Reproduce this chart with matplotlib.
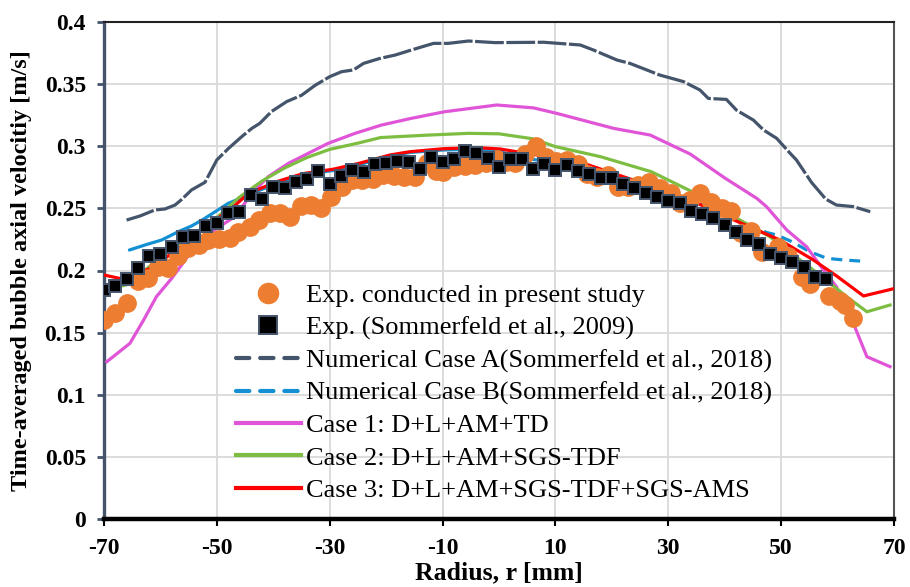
import matplotlib
matplotlib.use("Agg")
import matplotlib.pyplot as plt
from matplotlib.lines import Line2D
import numpy as np

plt.rcParams['font.family'] = ['Liberation Serif', 'DejaVu Serif']

# ---------------- data ----------------
exp_x = [-70, -68, -66, -64, -62.2, -60.4, -58.6, -56.9, -55.2, -53.2, -51.5, -49.6, -47.7, -46.2,
         -44.1, -42.5, -40.6, -38.8, -37, -35.1, -33.4, -31.6, -29.8, -27.9, -26.1, -24.3, -22.4,
         -20.5, -18.6, -16.8, -14.9, -12.8, -11.2, -9.9, -7.9, -6, -4.3, -2.3, -0.4, 1.2, 2.8, 4.6,
         6.6, 8.4, 10.1, 12, 14, 15.6, 17.3, 19.4, 21.1, 22.9, 24.7, 26.6, 28.5, 30.4, 32.1, 33.8,
         35.6, 37.5, 39.5, 41.2, 42.8, 44.6, 46.6, 49.5, 51.3, 53.7, 55.1, 58.5, 60.5, 61.3, 62.8]
exp_y = [0.160, 0.1655, 0.174, 0.1915, 0.194, 0.2025, 0.2023, 0.2118, 0.2178, 0.2205, 0.2245, 0.2253,
         0.2258, 0.2313, 0.235, 0.241, 0.246, 0.2466, 0.2433, 0.252, 0.2527, 0.250, 0.2588, 0.2675,
         0.2728, 0.2728, 0.2737, 0.2768, 0.276, 0.2755, 0.2755, 0.2863, 0.280, 0.2795, 0.2836, 0.284,
         0.285, 0.2863, 0.290, 0.287, 0.2863, 0.294, 0.300, 0.2916, 0.288, 0.289, 0.286, 0.278,
         0.2755, 0.2768, 0.2675, 0.2675, 0.2688, 0.2716, 0.266, 0.262, 0.254, 0.2567, 0.262, 0.2548,
         0.250, 0.248, 0.230, 0.232, 0.2145, 0.219, 0.212, 0.1945, 0.189, 0.1795, 0.1755, 0.1722, 0.162]

som_x = list(range(-70, 60, 2))
som_y = [0.184, 0.1875, 0.193, 0.2017, 0.2117, 0.213, 0.2187, 0.227, 0.228, 0.236, 0.2385, 0.246,
         0.2474, 0.261, 0.2575, 0.2675, 0.266, 0.271, 0.274, 0.280, 0.270, 0.276, 0.281, 0.2795,
         0.2857, 0.2868, 0.288, 0.2876, 0.282, 0.291, 0.2876, 0.2895, 0.296, 0.2948, 0.2908, 0.2836,
         0.2895, 0.2895, 0.2814, 0.2855, 0.2809, 0.285, 0.280, 0.2774, 0.2742, 0.2742, 0.2696,
         0.2667, 0.2627, 0.2594, 0.256, 0.2546, 0.248, 0.2455, 0.242, 0.237, 0.2313, 0.2245,
         0.2213, 0.2133, 0.2098, 0.207, 0.2025, 0.195, 0.193]

caseA_x = [-66, -63.6, -61, -59.2, -57.4, -56.2, -54.5, -52.1, -50, -48, -45.6, -43.8, -42.4, -40.3,
           -37.6, -35, -32.6, -30, -27.9, -25.8, -24, -21.1, -18.4, -15.5, -11.6, -9, -5.4, -0.7,
           7.9, 14.4, 16.7, 20.9, 23.2, 28.5, 32.7, 35.6, 37.1, 40.3, 42.1, 45.1, 46.9, 49.2, 51.6,
           52.7, 55.4, 57.9, 59.8, 62.8, 65.8]
caseA_y = [0.2406, 0.2439, 0.2487, 0.2495, 0.2527, 0.2573, 0.2648, 0.271, 0.289, 0.298, 0.3077,
           0.3144, 0.3184, 0.328, 0.336, 0.341, 0.349, 0.356, 0.360, 0.3614, 0.3667, 0.3707, 0.3734,
           0.3775, 0.3828, 0.3828, 0.3847, 0.3834, 0.3837, 0.3815, 0.3775, 0.3694, 0.3667, 0.3573,
           0.352, 0.3453, 0.3385, 0.3377, 0.329, 0.321, 0.313, 0.3064, 0.2943, 0.289, 0.2708,
           0.2575, 0.2527, 0.2514, 0.2473]

caseB_x = [-65.5, -62.4, -59.8, -56.8, -54.5, -52.4, -50.3, -48, -45.9, -44.1, -39.4, -34.7, -29.4,
           -24.6, -19.3, -15.8, -9.9, -4, 0.2, 3, 6.7, 12, 15.5, 23.8, 35.9, 40.3, 44, 47.5, 49.2,
           51.9, 55.1, 58.1, 61, 64]
caseB_y = [0.2165, 0.221, 0.2245, 0.2313, 0.2358, 0.2412, 0.2473, 0.254, 0.258, 0.2616, 0.270,
           0.277, 0.2805, 0.2855, 0.292, 0.295, 0.297, 0.2975, 0.296, 0.291, 0.289, 0.284, 0.281,
           0.271, 0.2527, 0.2445, 0.237, 0.2305, 0.2286, 0.2232, 0.2151, 0.2098, 0.2085, 0.2076]

case1_x = [-69.5, -65.4, -63, -60.7, -58, -55.6, -53.6, -50, -46.8, -43.8, -40.9, -37.3, -33.8,
           -30.3, -25.5, -20.8, -15.5, -9.6, -0.4, 6.1, 10.2, 20.3, 26.8, 33.9, 40.1, 45.7, 47.4,
           51, 54.5, 57.5, 59.8, 62.8, 65.2, 69.3]
case1_y = [0.1266, 0.1414, 0.160, 0.179, 0.1937, 0.2085, 0.222, 0.234, 0.2433, 0.262, 0.2755,
           0.2863, 0.2943, 0.3023, 0.3104, 0.3171, 0.3225, 0.3278, 0.3332, 0.3309, 0.3265, 0.3144,
           0.309, 0.2937, 0.2742, 0.258, 0.2514, 0.2326, 0.2192, 0.2004, 0.187, 0.1575, 0.1306,
           0.1226]

case2_x = [-70, -66, -62, -58, -54, -50, -46, -42, -38, -34, -30, -25, -21, -12.5, -5.4, 0, 6,
           10, 18, 27, 34.4, 42.7, 48, 55.7, 61.6, 65.2, 69.3]
case2_y = [0.184, 0.1885, 0.203, 0.2175, 0.2295, 0.2425, 0.259, 0.272, 0.2825, 0.291, 0.2975,
           0.3025, 0.307, 0.309, 0.3104, 0.310, 0.306, 0.2997, 0.2916, 0.2795, 0.263, 0.2406,
           0.2272, 0.2004, 0.179, 0.1668, 0.1722]

case3_x = [-70, -66.6, -61.8, -57.1, -54.2, -51.2, -47.7, -44.4, -39.4, -34.7, -29.4, -24.6, -19.3,
           -15.8, -9.9, -4, 0.2, 3.1, 6.7, 12, 15.5, 23.8, 35.9, 40.3, 49.8, 55.7, 59.8, 64.6, 69.9]
case3_y = [0.1964, 0.193, 0.2017, 0.2165, 0.2272, 0.238, 0.2487, 0.262, 0.2715, 0.278, 0.2815,
           0.2865, 0.293, 0.2956, 0.298, 0.2989, 0.2978, 0.2956, 0.293, 0.2877, 0.2855, 0.2728,
           0.2527, 0.2433, 0.2245, 0.2085, 0.1957, 0.1795, 0.1853]

labels = ["Exp. conducted in present study",
          "Exp. (Sommerfeld et al., 2009)",
          "Numerical Case A(Sommerfeld et al., 2018)",
          "Numerical Case B(Sommerfeld et al., 2018)",
          "Case 1: D+L+AM+TD",
          "Case 2: D+L+AM+SGS-TDF",
          "Case 3: D+L+AM+SGS-TDF+SGS-AMS"]
x_ticks = [-70, -50, -30, -10, 10, 30, 50, 70]
y_ticks = [0, 0.05, 0.1, 0.15, 0.2, 0.25, 0.3, 0.35, 0.4]
y_ticklabels = ["0", "0.05", "0.1", "0.15", "0.2", "0.25", "0.3", "0.35", "0.4"]

# ---------------- styles ----------------
c_orange = '#ED7D31'
c_slate = '#44546A'
c_blue = '#1390D4'
c_mag = '#E055D8'
c_green = '#7DBE42'
c_red = '#FF0000'
lw = 2.3

fig = plt.figure(figsize=(9.1, 5.87), dpi=100)
ax = fig.add_axes([104/910, 1-519/587, 790/910, 497/587])

ax.plot(caseA_x, caseA_y, color=c_slate, lw=lw, dashes=(9, 0.8), zorder=3)
bx = np.array(caseB_x); by = np.array(caseB_y)
m = bx <= 46
ax.plot(bx[m], by[m], color=c_blue, lw=lw, zorder=3.1, solid_capstyle='round')
ax.plot(bx[bx >= 44], by[bx >= 44], color=c_blue, lw=lw, dashes=(3.5, 2.2), zorder=3.1)
ax.plot(case1_x, case1_y, color=c_mag, lw=lw, zorder=3.2)
ax.plot(case2_x, case2_y, color=c_green, lw=lw, zorder=3.3)
ax.plot(case3_x, case3_y, color=c_red, lw=lw, zorder=3.4)
ax.plot(exp_x, exp_y, 'o', color=c_orange, ms=12.5, mec=c_orange, zorder=4)
ax.plot(som_x, som_y, 's', color='black', ms=8.5, mec=c_slate, mew=1.4, zorder=5)

ax.set_xlim(-70, 70)
ax.set_ylim(0, 0.4)
ax.set_xticks(x_ticks)
ax.set_yticks(y_ticks)
ax.set_xticklabels([str(v) for v in x_ticks])
ax.set_yticklabels(y_ticklabels)
ax.grid(True, color='#D9D9D9', lw=1.3, zorder=0)
ax.set_axisbelow(True)

for lab in ax.get_xticklabels() + ax.get_yticklabels():
    lab.set_fontweight('bold')
    lab.set_fontsize(17)
ax.tick_params(axis='x', direction='out', length=5, width=1.5, color='black', pad=9)
ax.tick_params(axis='y', direction='out', length=5, width=2, color=c_slate, pad=8)

ax.spines['bottom'].set_linewidth(3.2)
ax.spines['bottom'].set_color('black')
ax.spines['left'].set_linewidth(2.4)
ax.spines['left'].set_color(c_slate)
ax.spines['top'].set_linewidth(1.5)
ax.spines['top'].set_color('#222222')
ax.spines['right'].set_linewidth(1.5)
ax.spines['right'].set_color('#555555')

ax.set_xlabel("Radius, r [mm]", fontsize=18.5, fontweight='bold', labelpad=1)
ax.set_ylabel("Time-averaged bubble axial velocitiy [m/s]", fontsize=17.5, fontweight='bold', labelpad=9)

handles = [
    Line2D([], [], ls='none', marker='o', color=c_orange, ms=14.5),
    Line2D([], [], ls='none', marker='s', mfc='black', mec=c_slate, mew=1.4, ms=13),
    Line2D([], [], color=c_slate, lw=3, dashes=(3.2, 2.6), dash_capstyle='round'),
    Line2D([], [], color=c_blue, lw=3, dashes=(3.2, 2.6), dash_capstyle='round'),
    Line2D([], [], color=c_mag, lw=3),
    Line2D([], [], color=c_green, lw=3),
    Line2D([], [], color=c_red, lw=3),
]
leg = fig.legend(handles, labels, loc='upper left', bbox_to_anchor=(236/910, 1-284/587),
                 frameon=False, fontsize=19, handlelength=2.45, handletextpad=0.22,
                 labelspacing=0.33, borderaxespad=0, borderpad=0)

fig.savefig("out.png", dpi=100)
